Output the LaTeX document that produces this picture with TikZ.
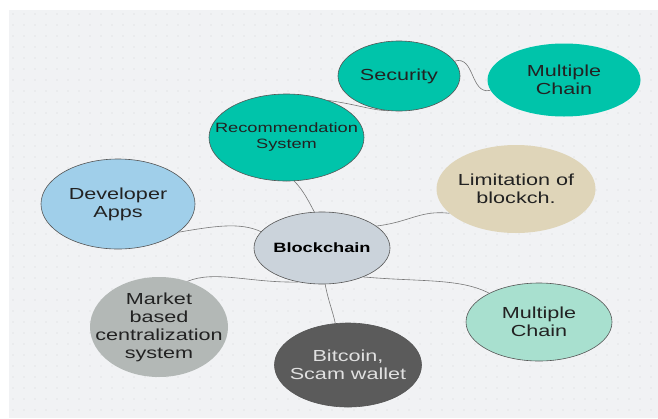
\documentclass[tikz,border=0pt]{standalone}
\usepackage{fontspec}
\setmainfont{Liberation Sans}[FakeStretch=1.35]
\usetikzlibrary{shapes.geometric}
\definecolor{bg}{HTML}{F1F2F4}
\definecolor{dotc}{HTML}{D3D5DA}
\definecolor{teal}{HTML}{00C4AA}
\definecolor{skyb}{HTML}{A0CFEA}
\definecolor{tan}{HTML}{DFD5B9}
\definecolor{mgray}{HTML}{B3B8B6}
\definecolor{core}{HTML}{CBD3DB}
\definecolor{dark}{HTML}{5B5B5B}
\definecolor{mint}{HTML}{A8E0CF}
\definecolor{txt}{HTML}{222222}
\definecolor{edge}{HTML}{555555}
\definecolor{link}{HTML}{777777}
\tikzset{
  blob/.style={ellipse, inner sep=0pt},
  lbl/.style={inner sep=0pt, align=center, text=txt,
    font=\fontsize{16}{18}\selectfont},
  bordered/.style={draw=edge, line width=0.6pt},
  conn/.style={draw=link, line width=0.6pt},
}
\begin{document}
\begin{tikzpicture}[x=1pt,y=-1pt]
\useasboundingbox (0,0) rectangle (658,418);
\fill[white] (0,0) rectangle (658,418);
\fill[bg] (9,10) rectangle (658,418);
\foreach \i in {0,...,58}{
  \foreach \j in {0,...,36}{
    \fill[dotc] ({13+11*\i},{14+11*\j}) circle[radius=0.6];
  }
}
% shapes
\node[blob, bordered, fill=teal, minimum width=122, minimum height=70] (sec) at (399,76) {};
\node[blob, bordered, fill=teal, minimum width=155, minimum height=87] (rec) at (286.5,137.5) {};
\node[blob, fill=teal, minimum width=153, minimum height=73] (mc1) at (564,80) {};
\node[blob, fill=tan, minimum width=159, minimum height=88] (lim) at (516,189) {};
\node[blob, bordered, fill=skyb, minimum width=154, minimum height=90] (dev) at (118,204) {};
\node[blob, fill=mgray, minimum width=138, minimum height=100] (mkt) at (159,327) {};
\node[blob, bordered, fill=core, minimum width=136, minimum height=72] (bc) at (322,248) {};
\node[blob, bordered, fill=dark, minimum width=147, minimum height=84] (btc) at (348,365) {};
\node[blob, bordered, fill=mint, minimum width=146, minimum height=78] (mc2) at (539,322) {};
% texts
\node[lbl] (sec-t) at (sec) {Security};
\node[lbl, font=\fontsize{13.5}{16}\selectfont] (rec-t) at (rec) {Recommendation\\System};
\node[lbl] (mc1-t) at (mc1) {Multiple\\Chain};
\node[lbl] (lim-t) at (lim) {Limitation of\\blockch.};
\node[lbl] (dev-t) at (dev) {Developer\\Apps};
\node[lbl] (mkt-t) at (mkt) {Market\\based\\centralization\\system};
\node[lbl, text=black, font=\bfseries\fontsize{13.5}{16}\selectfont] (bc-t) at (bc) {Blockchain};
\node[lbl, text=white!88!black] (btc-t) at (btc) {Bitcoin,\\Scam wallet};
\node[lbl] (mc2-t) at (mc2) {Multiple\\Chain};
% connectors
\draw[conn] (sec.253) .. controls (370,110) and (360,105) .. (rec.42);
\draw[conn] (sec.15) .. controls (475,55) and (470,95) .. (mc1.188);
\draw[conn] (rec.-80) .. controls (303,190) and (308,200) .. (bc.102);
\draw[conn] (bc.22) .. controls (410,222) and (420,210) .. (lim.200);
\draw[conn] (dev.-25) .. controls (215,226) and (240,222) .. (bc.165);
\draw[conn] (mkt.58) .. controls (215,270) and (250,283) .. (bc.235);
\draw[conn] (bc.-85) .. controls (328,300) and (333,312) .. (btc.107);
\draw[conn] (bc.-35) .. controls (420,282) and (460,278) .. (mc2.150);
\end{tikzpicture}
\end{document}
